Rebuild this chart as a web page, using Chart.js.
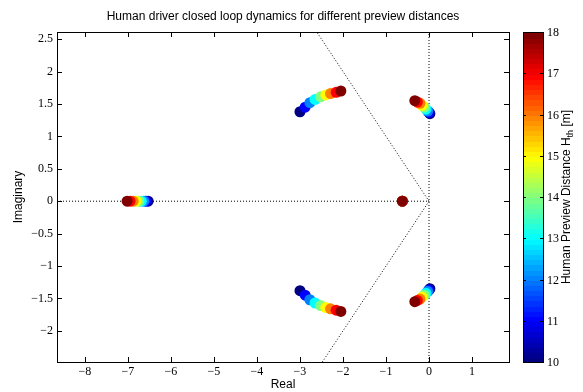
<!DOCTYPE html>
<html>
<head>
<meta charset="utf-8">
<title>Closed loop dynamics</title>
<script src="https://cdn.jsdelivr.net/npm/chart.js@4/dist/chart.umd.min.js"></script>
<style>
  body { margin: 0; background: #fff; }
  canvas { display: block; }
</style>
</head>
<body>
<canvas id="rootChart" width="583" height="392"></canvas>
<script>
// preview distance for each pole set (colour), H_th in m
const previewDistance = [10, 11, 12, 13, 14, 15, 16, 17, 18];

// fast real pole
const realPoleRe = [-6.53, -6.58, -6.63, -6.69, -6.75, -6.81, -6.88, -6.95, -7.02];
// slow real pole (all on top of each other)
const slowPoleRe = [-0.62, -0.62, -0.62, -0.62, -0.62, -0.62, -0.62, -0.62, -0.62];
// left complex pair
const leftRe = [-3.0, -2.88, -2.77, -2.65, -2.52, -2.40, -2.29, -2.16, -2.05];
const leftIm = [1.38, 1.45, 1.52, 1.57, 1.61, 1.64, 1.66, 1.68, 1.70];
// right complex pair
const rightRe = [0.02, 0.0, -0.03, -0.07, -0.11, -0.16, -0.21, -0.27, -0.33];
const rightIm = [1.35, 1.37, 1.39, 1.42, 1.45, 1.48, 1.51, 1.53, 1.55];

const xTicks = [-8, -7, -6, -5, -4, -3, -2, -1, 0, 1];
const yTicks = [-2, -1.5, -1, -0.5, 0, 0.5, 1, 1.5, 2, 2.5];
const barTicks = [10, 11, 12, 13, 14, 15, 16, 17, 18];

const xMin = -8.65, xMax = 1.86;
const yMin = -2.48, yMax = 2.61;
const hMin = 10, hMax = 18;

function jet(t) {
  const c = v => Math.round(255 * Math.max(0, Math.min(1, v)));
  return 'rgb(' + c(1.5 - Math.abs(4 * t - 3)) + ',' + c(1.5 - Math.abs(4 * t - 2)) + ',' + c(1.5 - Math.abs(4 * t - 1)) + ')';
}
const pointColors = previewDistance.map(h => jet((h - hMin) / (hMax - hMin)));

function fmt(v) {
  return v < 0 ? '\u2212' + Math.abs(v) : String(v);
}

function poles(reArr, imArr, sign) {
  return reArr.map((re, i) => ({ x: re, y: imArr ? sign * imArr[i] : 0 }));
}

function poleSet(data) {
  return {
    data: data,
    pointRadius: 5.5,
    pointHoverRadius: 5.5,
    pointBackgroundColor: pointColors,
    pointBorderColor: pointColors,
    pointBorderWidth: 0,
    showLine: false
  };
}

function dotted(data) {
  return {
    data: data,
    showLine: true,
    pointRadius: 0,
    borderColor: '#000',
    borderWidth: 1,
    borderDash: [1, 2]
  };
}

const serif = "'Liberation Serif', 'Times New Roman', serif";
const sans = "'Liberation Sans', Arial, sans-serif";

// frame, inward ticks, title, colorbar
const decor = {
  id: 'decor',
  afterDraw(chart) {
    const ctx = chart.ctx;
    const a = chart.chartArea;
    const xs = chart.scales.x, ys = chart.scales.y;
    ctx.save();
    ctx.strokeStyle = '#000';
    ctx.lineWidth = 1;
    ctx.beginPath();
    xTicks.forEach(v => {
      const px = Math.round(xs.getPixelForValue(v)) + 0.5;
      ctx.moveTo(px, a.bottom); ctx.lineTo(px, a.bottom - 5);
      ctx.moveTo(px, a.top); ctx.lineTo(px, a.top + 5);
    });
    yTicks.forEach(v => {
      const py = Math.round(ys.getPixelForValue(v)) + 0.5;
      ctx.moveTo(a.left, py); ctx.lineTo(a.left + 5, py);
      ctx.moveTo(a.right, py); ctx.lineTo(a.right - 5, py);
    });
    ctx.stroke();
    ctx.strokeRect(Math.round(a.left) + 0.5, Math.round(a.top) + 0.5, Math.round(a.right - a.left), Math.round(a.bottom - a.top));

    // title
    ctx.fillStyle = '#000';
    ctx.font = '12px ' + sans;
    ctx.textAlign = 'center';
    ctx.textBaseline = 'middle';
    ctx.fillText('Human driver closed loop dynamics for different preview distances', (a.left + a.right) / 2, 17);

    // colorbar
    const bx = 523, bw = 20, top = a.top, bot = a.bottom;
    const n = 64;
    for (let i = 0; i < n; i++) {
      const y0 = bot - (i + 1) * (bot - top) / n;
      ctx.fillStyle = jet(i / (n - 1));
      ctx.fillRect(bx, Math.floor(y0), bw, Math.ceil((bot - top) / n) + 1);
    }
    ctx.strokeRect(bx + 0.5, Math.round(top) + 0.5, bw, Math.round(bot - top));
    ctx.beginPath();
    ctx.fillStyle = '#000';
    ctx.font = '12px ' + serif;
    ctx.textAlign = 'left';
    barTicks.forEach(h => {
      const py = Math.round(bot - (h - hMin) / (hMax - hMin) * (bot - top)) + 0.5;
      ctx.moveTo(bx + bw, py); ctx.lineTo(bx + bw - 3, py);
      ctx.moveTo(bx, py); ctx.lineTo(bx + 3, py);
      ctx.fillText(String(h), bx + bw + 4, py);
    });
    ctx.stroke();

    // colorbar label with subscript
    ctx.translate(567, (top + bot) / 2);
    ctx.rotate(-Math.PI / 2);
    const main = 'Human Preview Distance H';
    ctx.font = '9px ' + sans;
    const subW = ctx.measureText('th').width;
    ctx.font = '12px ' + sans;
    const tail = ' [m]';
    const total = ctx.measureText(main).width + subW + ctx.measureText(tail).width;
    let x = -total / 2;
    ctx.textAlign = 'left';
    ctx.fillText(main, x, 0);
    x += ctx.measureText(main).width;
    ctx.font = '9px ' + sans;
    ctx.fillText('th', x, 4);
    x += subW;
    ctx.font = '12px ' + sans;
    ctx.fillText(tail, x, 0);
    ctx.restore();
  }
};

new Chart(document.getElementById('rootChart'), {
  type: 'scatter',
  data: {
    datasets: [
      poleSet(poles(realPoleRe, null, 1)),
      poleSet(poles(slowPoleRe, null, 1)),
      poleSet(poles(leftRe, leftIm, 1)),
      poleSet(poles(leftRe, leftIm, -1)),
      poleSet(poles(rightRe, rightIm, 1)),
      poleSet(poles(rightRe, rightIm, -1)),
      dotted([{ x: xMin, y: 0 }, { x: 0, y: 0 }]),
      dotted([{ x: 0, y: yMin }, { x: 0, y: yMax }]),
      dotted([{ x: 0, y: 0 }, { x: -2.7, y: 2.7 }]),
      dotted([{ x: 0, y: 0 }, { x: -2.7, y: -2.7 }])
    ]
  },
  options: {
    responsive: false,
    animation: false,
    layout: { padding: { left: 0, right: 74, top: 32, bottom: 0 } },
    plugins: {
      legend: { display: false },
      tooltip: { enabled: false },
      title: { display: false }
    },
    scales: {
      x: {
        type: 'linear',
        min: xMin,
        max: xMax,
        afterBuildTicks: s => { s.ticks = xTicks.map(v => ({ value: v })); },
        afterFit: s => { s.height = 30; },
        grid: { display: false, drawTicks: false },
        border: { display: false },
        ticks: { color: '#000', padding: 3, font: { family: serif, size: 12 }, callback: v => fmt(v), maxRotation: 0 },
        title: { display: true, text: 'Real', color: '#000', padding: { top: 0, bottom: 0 }, font: { family: sans, size: 12 } }
      },
      y: {
        type: 'linear',
        min: yMin,
        max: yMax,
        afterBuildTicks: s => { s.ticks = yTicks.map(v => ({ value: v })); },
        afterFit: s => { s.width = 57; },
        grid: { display: false, drawTicks: false },
        border: { display: false },
        ticks: { color: '#000', padding: 4, font: { family: serif, size: 12 }, callback: v => fmt(v) },
        title: { display: true, text: 'Imaginary', color: '#000', padding: { top: 11, bottom: 0 }, font: { family: sans, size: 12 } }
      }
    }
  },
  plugins: [decor]
});
</script>
</body>
</html>
